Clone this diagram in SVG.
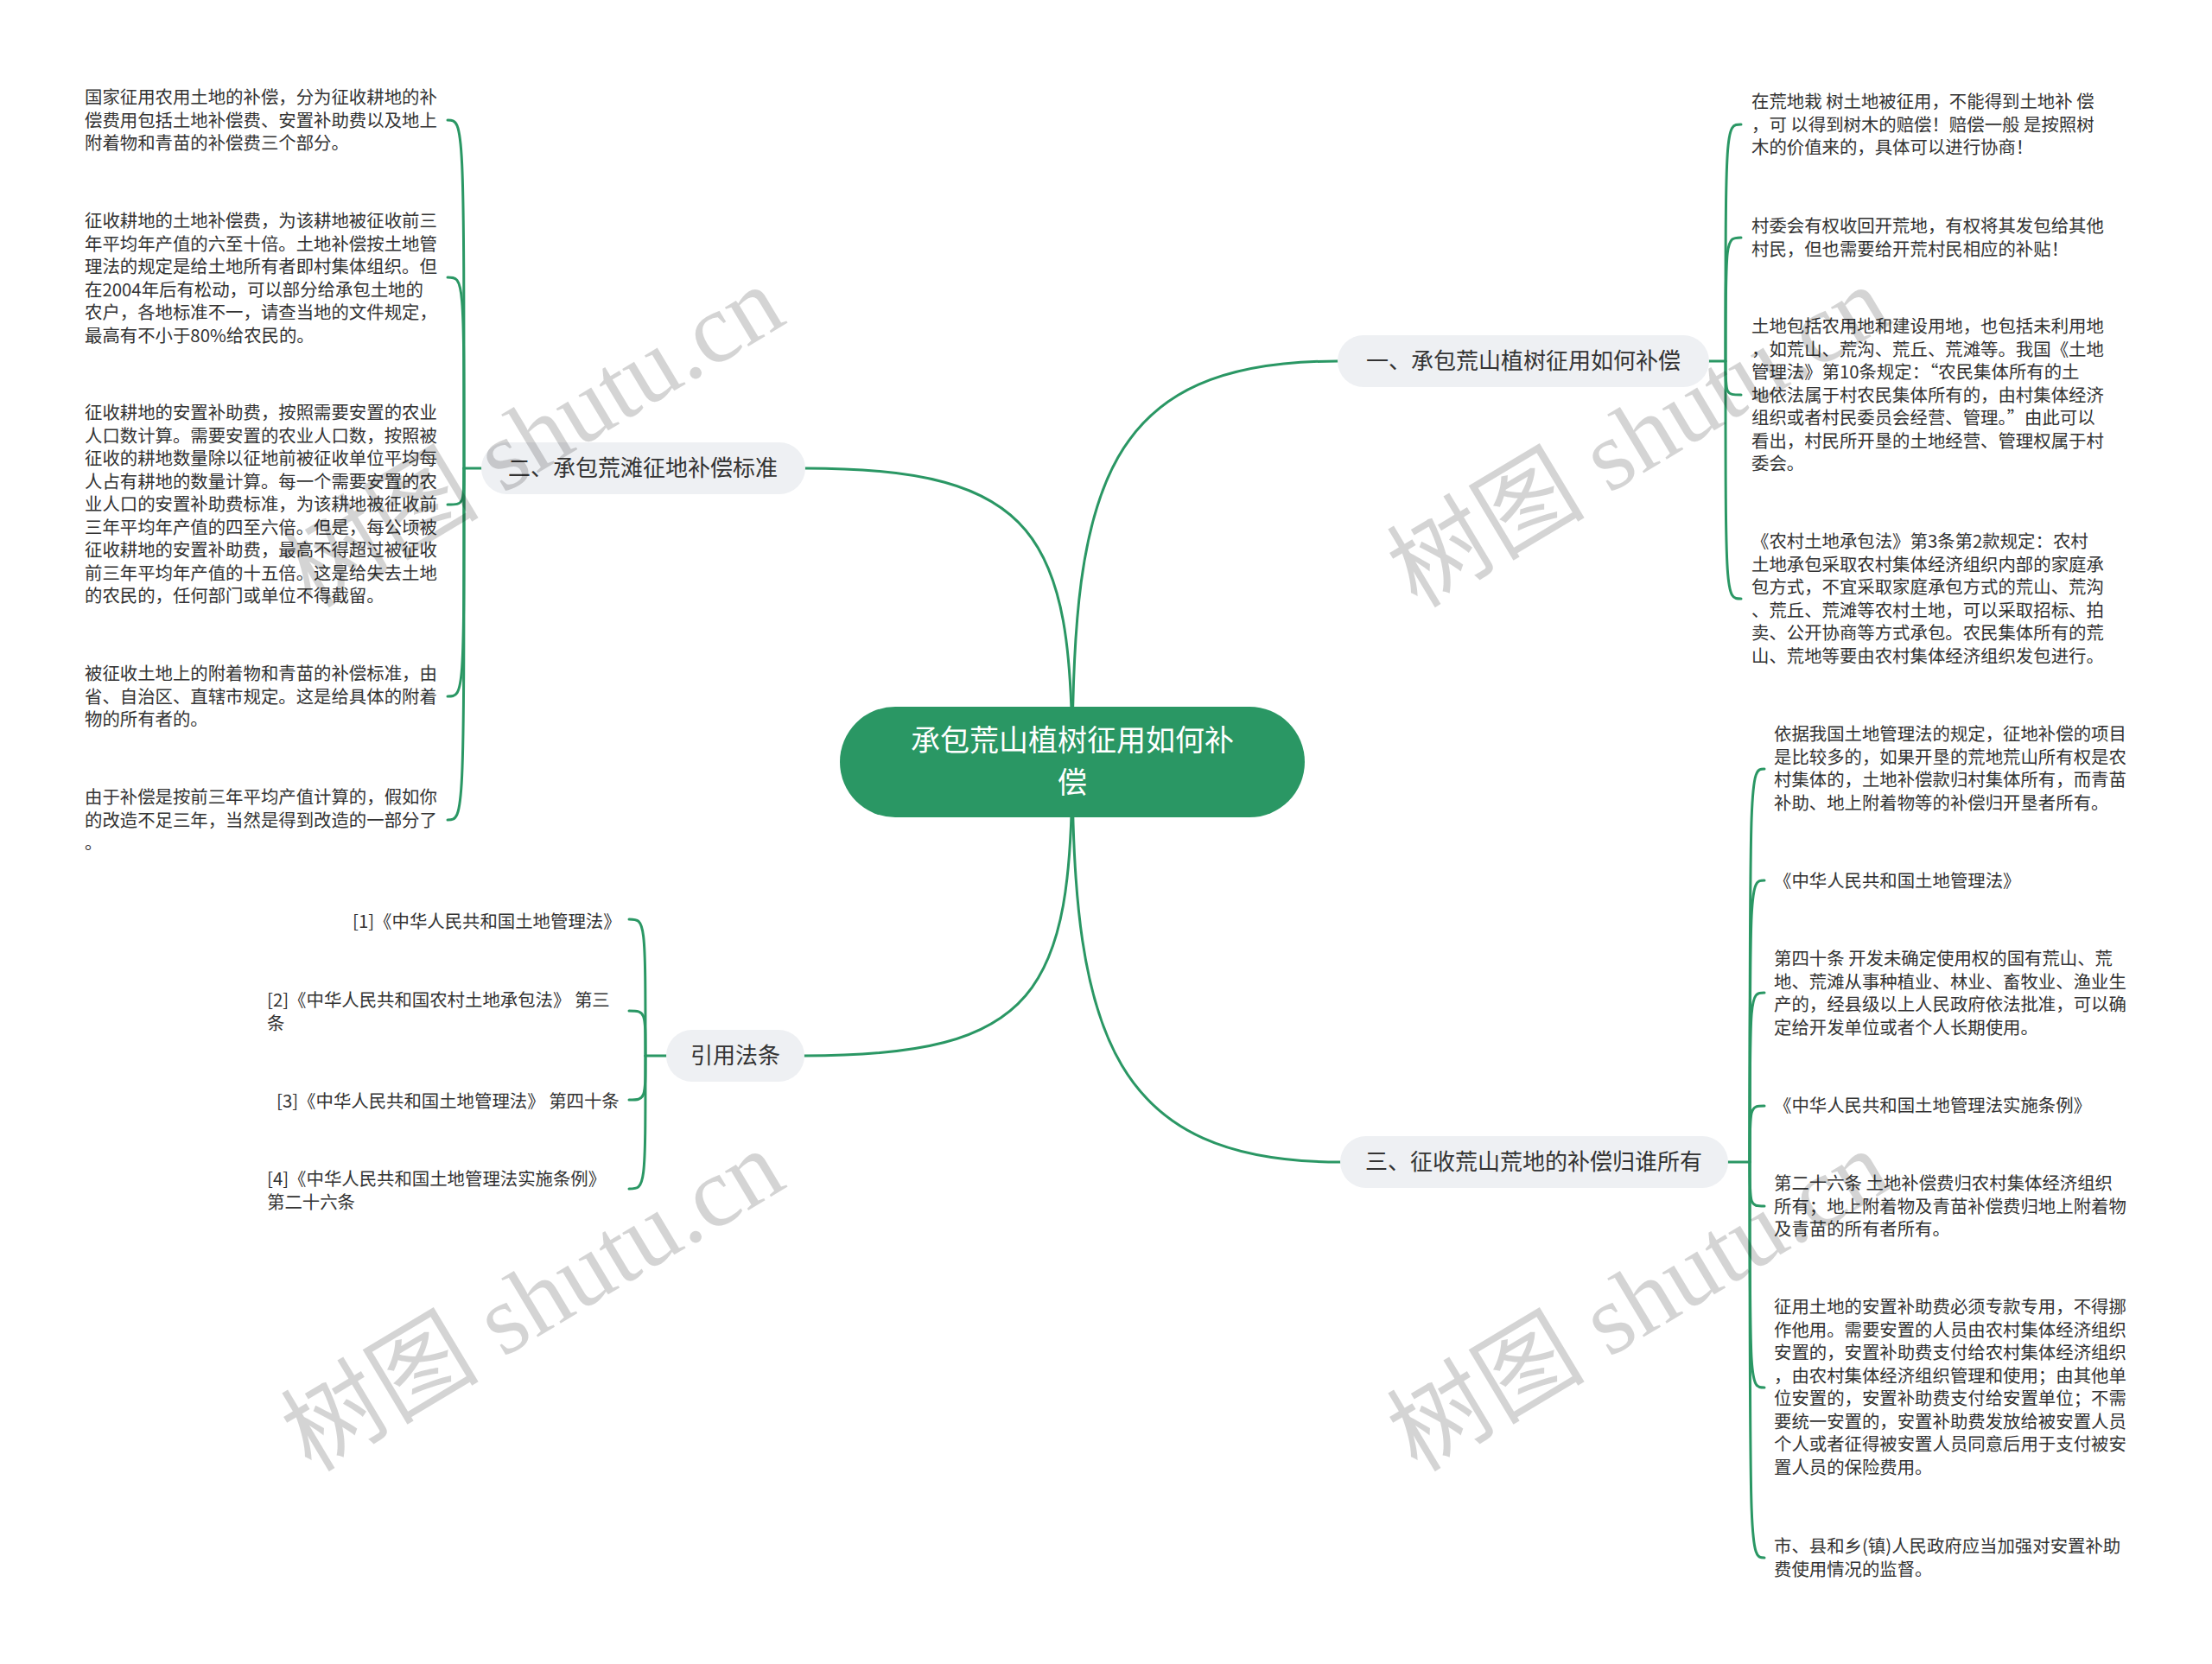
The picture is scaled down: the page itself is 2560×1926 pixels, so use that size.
<svg xmlns="http://www.w3.org/2000/svg" width="2560" height="1926" viewBox="0 0 2560 1926">
<style>
.ln{fill:none;stroke:#2a9764;stroke-width:3;stroke-linecap:round}
.lf{font-family:"Noto Sans CJK SC","Noto Sans",sans-serif;font-size:20.4px;fill:#333}
.br{fill:#eef0f3}
.bt{font-family:"Noto Sans CJK SC","Noto Sans",sans-serif;font-size:26px;fill:#333;text-anchor:middle}
.ct{font-family:"Noto Sans CJK SC","Noto Sans",sans-serif;font-size:34px;fill:#fff;text-anchor:middle}
.wm{font-family:"Liberation Serif","Noto Sans CJK SC",serif;font-size:115px;fill:#000;fill-opacity:0.17}
</style>
<rect width="2560" height="1926" fill="#fff"/>
<g id="connectors">
<path class="ln" d="M1241,882 C1241,560 1280,418 1548,418"/>
<path class="ln" d="M1241,882 C1241,620 1200,542 932,542"/>
<path class="ln" d="M1241,882 C1241,1150 1200,1222 931,1222"/>
<path class="ln" d="M1241,882 C1241,1200 1290,1345 1551,1345"/>
<path class="ln" d="M557,542 L537,542"/>
<path class="ln" d="M537,542 C537,139 537,139 518,139"/>
<path class="ln" d="M537,542 C537,321 537,321 518,321"/>
<path class="ln" d="M537,542 C537,584 537,584 518,584"/>
<path class="ln" d="M537,542 C537,806 537,806 518,806"/>
<path class="ln" d="M537,542 C537,949 537,949 518,949"/>
<path class="ln" d="M1978,418 L1997,418"/>
<path class="ln" d="M1997,418 C1997,144 1997,144 2015,144"/>
<path class="ln" d="M1997,418 C1997,275 1997,275 2015,275"/>
<path class="ln" d="M1997,418 C1997,457 1997,457 2015,457"/>
<path class="ln" d="M1997,418 C1997,693 1997,693 2015,693"/>
<path class="ln" d="M2000,1345 L2025,1345"/>
<path class="ln" d="M2025,1345 C2025,890 2025,890 2042,890"/>
<path class="ln" d="M2025,1345 C2025,1019 2025,1019 2042,1019"/>
<path class="ln" d="M2025,1345 C2025,1149 2025,1149 2042,1149"/>
<path class="ln" d="M2025,1345 C2025,1280 2025,1280 2042,1280"/>
<path class="ln" d="M2025,1345 C2025,1396 2025,1396 2042,1396"/>
<path class="ln" d="M2025,1345 C2025,1606 2025,1606 2042,1606"/>
<path class="ln" d="M2025,1345 C2025,1803 2025,1803 2042,1803"/>
<path class="ln" d="M771,1222 L747,1222"/>
<path class="ln" d="M747,1222 C747,1064 747,1064 728,1064"/>
<path class="ln" d="M747,1222 C747,1170 747,1170 728,1170"/>
<path class="ln" d="M747,1222 C747,1273 747,1273 728,1273"/>
<path class="ln" d="M747,1222 C747,1376 747,1376 728,1376"/>
</g>
<g id="center">
<rect x="972" y="818" width="538" height="128" rx="64" fill="#2a9764"/>
<text class="ct"><tspan x="1241" y="869">承包荒山植树征用如何补</tspan><tspan x="1241" y="918">偿</tspan></text>
</g>
<g id="branch1">
<rect class="br" x="1548" y="388" width="430" height="60" rx="30"/>
<text class="bt" x="1763" y="427">一、承包荒山植树征用如何补偿</text>
</g>
<g id="branch2">
<rect class="br" x="557" y="512" width="375" height="60" rx="30"/>
<text class="bt" x="744" y="551">二、承包荒滩征地补偿标准</text>
</g>
<g id="branch3">
<rect class="br" x="1551" y="1315" width="449" height="60" rx="30"/>
<text class="bt" x="1775" y="1354">三、征收荒山荒地的补偿归谁所有</text>
</g>
<g id="branch4">
<rect class="br" x="771" y="1192" width="160" height="60" rx="30"/>
<text class="bt" x="851" y="1231">引用法条</text>
</g>
<g id="leaf-l1"><text class="lf"><tspan x="98" y="120">国家征用农用土地的补偿，分为征收耕地的补</tspan><tspan x="98" y="146.5">偿费用包括土地补偿费、安置补助费以及地上</tspan><tspan x="98" y="173">附着物和青苗的补偿费三个部分。</tspan></text></g>
<g id="leaf-l2"><text class="lf"><tspan x="98" y="263">征收耕地的土地补偿费，为该耕地被征收前三</tspan><tspan x="98" y="289.5">年平均年产值的六至十倍。土地补偿按土地管</tspan><tspan x="98" y="316">理法的规定是给土地所有者即村集体组织。但</tspan><tspan x="98" y="342.5">在2004年后有松动，可以部分给承包土地的</tspan><tspan x="98" y="369">农户，各地标准不一，请查当地的文件规定，</tspan><tspan x="98" y="395.5">最高有不小于80%给农民的。</tspan></text></g>
<g id="leaf-l3"><text class="lf"><tspan x="98" y="485">征收耕地的安置补助费，按照需要安置的农业</tspan><tspan x="98" y="511.5">人口数计算。需要安置的农业人口数，按照被</tspan><tspan x="98" y="538">征收的耕地数量除以征地前被征收单位平均每</tspan><tspan x="98" y="564.5">人占有耕地的数量计算。每一个需要安置的农</tspan><tspan x="98" y="591">业人口的安置补助费标准，为该耕地被征收前</tspan><tspan x="98" y="617.5">三年平均年产值的四至六倍。但是，每公顷被</tspan><tspan x="98" y="644">征收耕地的安置补助费，最高不得超过被征收</tspan><tspan x="98" y="670.5">前三年平均年产值的十五倍。这是给失去土地</tspan><tspan x="98" y="697">的农民的，任何部门或单位不得截留。</tspan></text></g>
<g id="leaf-l4"><text class="lf"><tspan x="98" y="787">被征收土地上的附着物和青苗的补偿标准，由</tspan><tspan x="98" y="813.5">省、自治区、直辖市规定。这是给具体的附着</tspan><tspan x="98" y="840">物的所有者的。</tspan></text></g>
<g id="leaf-l5"><text class="lf"><tspan x="98" y="930">由于补偿是按前三年平均产值计算的，假如你</tspan><tspan x="98" y="956.5">的改造不足三年，当然是得到改造的一部分了</tspan><tspan x="98" y="983">。</tspan></text></g>
<g id="leaf-r1"><text class="lf"><tspan x="2027" y="125">在荒地栽 树土地被征用，不能得到土地补 偿</tspan><tspan x="2027" y="151.5">，可 以得到树木的赔偿！赔偿一般 是按照树</tspan><tspan x="2027" y="178">木的价值来的，具体可以进行协商！</tspan></text></g>
<g id="leaf-r2"><text class="lf"><tspan x="2027" y="269">村委会有权收回开荒地，有权将其发包给其他</tspan><tspan x="2027" y="295.5">村民，但也需要给开荒村民相应的补贴！</tspan></text></g>
<g id="leaf-r3"><text class="lf"><tspan x="2027" y="385">土地包括农用地和建设用地，也包括未利用地</tspan><tspan x="2027" y="411.5">，如荒山、荒沟、荒丘、荒滩等。我国《土地</tspan><tspan x="2027" y="438">管理法》第10条规定：“农民集体所有的土</tspan><tspan x="2027" y="464.5">地依法属于村农民集体所有的，由村集体经济</tspan><tspan x="2027" y="491">组织或者村民委员会经营、管理。”由此可以</tspan><tspan x="2027" y="517.5">看出，村民所开垦的土地经营、管理权属于村</tspan><tspan x="2027" y="544">委会。</tspan></text></g>
<g id="leaf-r4"><text class="lf"><tspan x="2027" y="634">《农村土地承包法》第3条第2款规定：农村</tspan><tspan x="2027" y="660.5">土地承包采取农村集体经济组织内部的家庭承</tspan><tspan x="2027" y="687">包方式，不宜采取家庭承包方式的荒山、荒沟</tspan><tspan x="2027" y="713.5">、荒丘、荒滩等农村土地，可以采取招标、拍</tspan><tspan x="2027" y="740">卖、公开协商等方式承包。农民集体所有的荒</tspan><tspan x="2027" y="766.5">山、荒地等要由农村集体经济组织发包进行。</tspan></text></g>
<g id="leaf-t1"><text class="lf"><tspan x="2053" y="857">依据我国土地管理法的规定，征地补偿的项目</tspan><tspan x="2053" y="883.5">是比较多的，如果开垦的荒地荒山所有权是农</tspan><tspan x="2053" y="910">村集体的，土地补偿款归村集体所有，而青苗</tspan><tspan x="2053" y="936.5">补助、地上附着物等的补偿归开垦者所有。</tspan></text></g>
<g id="leaf-t2"><text class="lf"><tspan x="2053" y="1027">《中华人民共和国土地管理法》</tspan></text></g>
<g id="leaf-t3"><text class="lf"><tspan x="2053" y="1117">第四十条 开发未确定使用权的国有荒山、荒</tspan><tspan x="2053" y="1143.5">地、荒滩从事种植业、林业、畜牧业、渔业生</tspan><tspan x="2053" y="1170">产的，经县级以上人民政府依法批准，可以确</tspan><tspan x="2053" y="1196.5">定给开发单位或者个人长期使用。</tspan></text></g>
<g id="leaf-t4"><text class="lf"><tspan x="2053" y="1287">《中华人民共和国土地管理法实施条例》</tspan></text></g>
<g id="leaf-t5"><text class="lf"><tspan x="2053" y="1377">第二十六条 土地补偿费归农村集体经济组织</tspan><tspan x="2053" y="1403.5">所有；地上附着物及青苗补偿费归地上附着物</tspan><tspan x="2053" y="1430">及青苗的所有者所有。</tspan></text></g>
<g id="leaf-t6"><text class="lf"><tspan x="2053" y="1520">征用土地的安置补助费必须专款专用，不得挪</tspan><tspan x="2053" y="1546.5">作他用。需要安置的人员由农村集体经济组织</tspan><tspan x="2053" y="1573">安置的，安置补助费支付给农村集体经济组织</tspan><tspan x="2053" y="1599.5">，由农村集体经济组织管理和使用；由其他单</tspan><tspan x="2053" y="1626">位安置的，安置补助费支付给安置单位；不需</tspan><tspan x="2053" y="1652.5">要统一安置的，安置补助费发放给被安置人员</tspan><tspan x="2053" y="1679">个人或者征得被安置人员同意后用于支付被安</tspan><tspan x="2053" y="1705.5">置人员的保险费用。</tspan></text></g>
<g id="leaf-t7"><text class="lf"><tspan x="2053" y="1797">市、县和乡(镇)人民政府应当加强对安置补助</tspan><tspan x="2053" y="1823.5">费使用情况的监督。</tspan></text></g>
<g id="ref-1"><text class="lf"><tspan x="408" y="1074">[1]《中华人民共和国土地管理法》</tspan></text></g>
<g id="ref-2"><text class="lf"><tspan x="309" y="1165">[2]《中华人民共和国农村土地承包法》 第三</tspan><tspan x="309" y="1192">条</tspan></text></g>
<g id="ref-3"><text class="lf"><tspan x="320" y="1282">[3]《中华人民共和国土地管理法》 第四十条</tspan></text></g>
<g id="ref-4"><text class="lf"><tspan x="309" y="1372">[4]《中华人民共和国土地管理法实施条例》</tspan><tspan x="309" y="1399">第二十六条</tspan></text></g>
<g id="watermarks">
<text class="wm" transform="translate(360,705) rotate(-31)">树图 shutu.cn</text>
<text class="wm" transform="translate(360,1705) rotate(-31)">树图 shutu.cn</text>
<text class="wm" transform="translate(1640,705) rotate(-31)">树图 shutu.cn</text>
<text class="wm" transform="translate(1640,1705) rotate(-31)">树图 shutu.cn</text>
</g>
</svg>
